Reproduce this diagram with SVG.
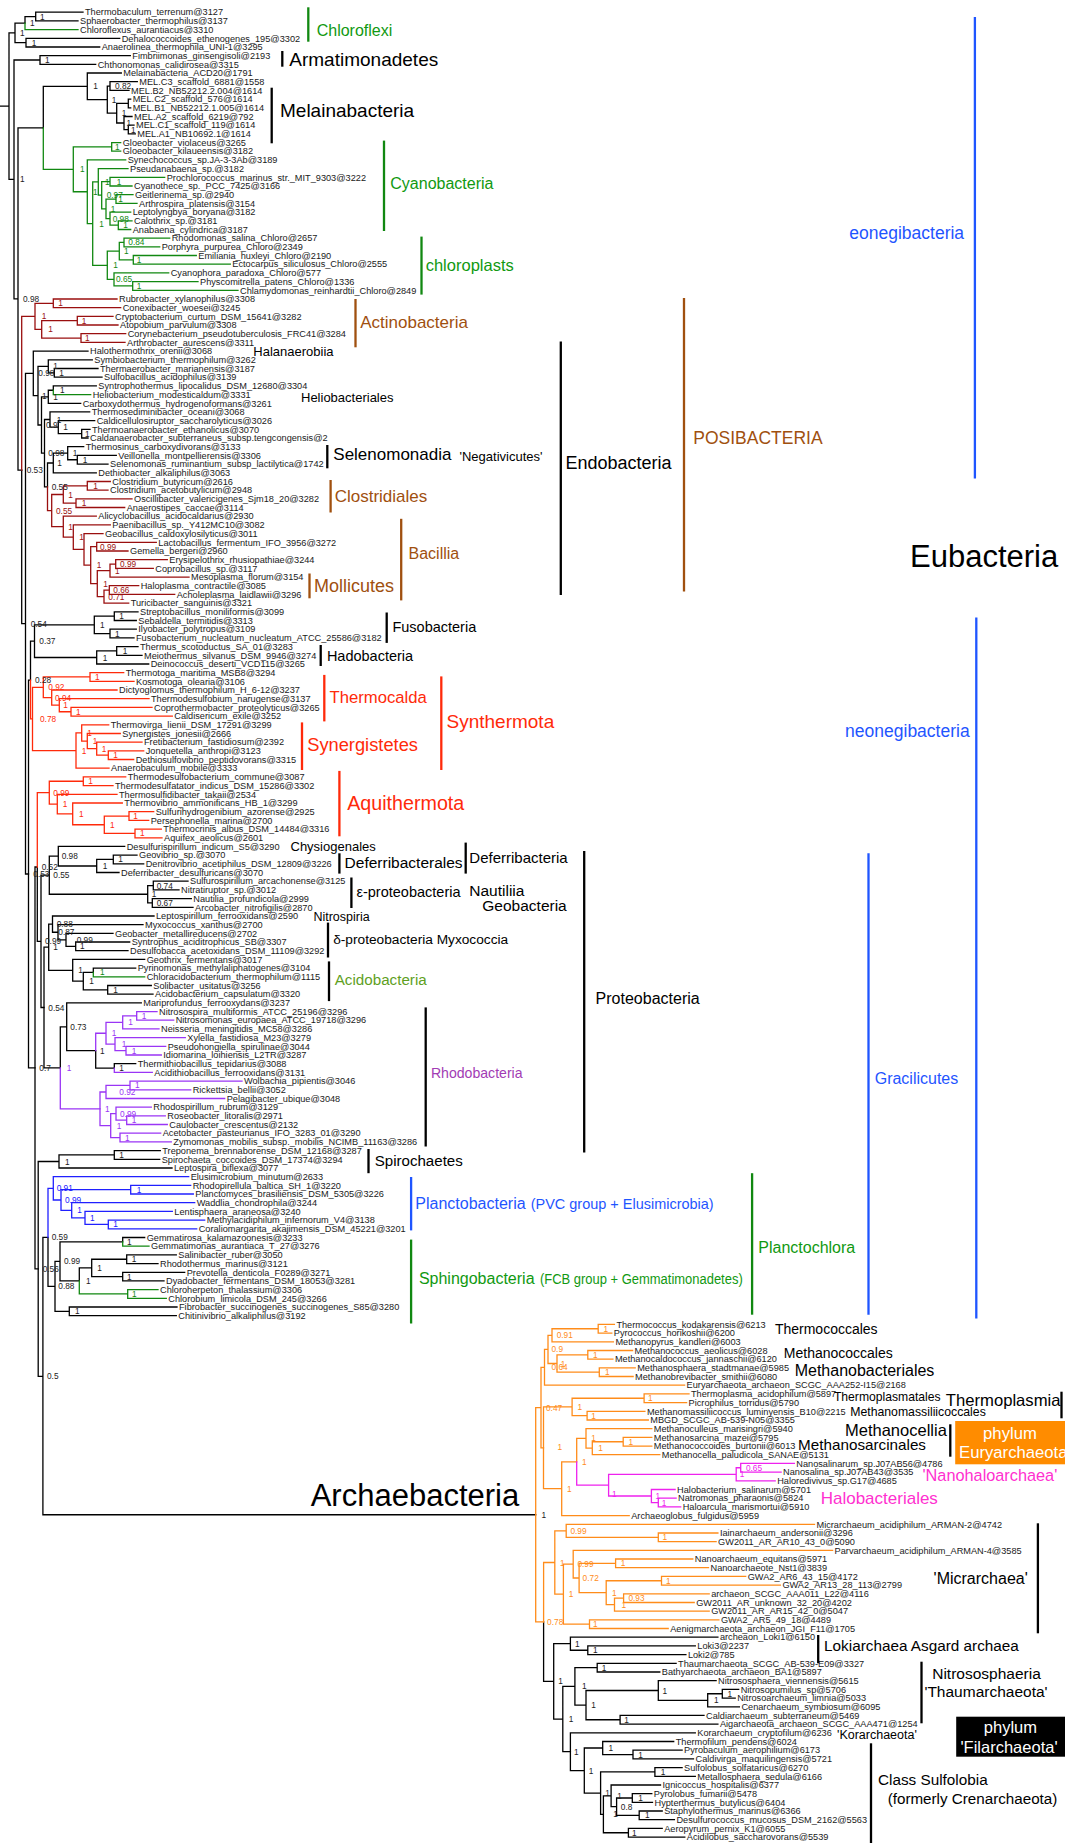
<svg xmlns="http://www.w3.org/2000/svg" width="1065" height="1843" viewBox="0 0 1065 1843">
<style>
.t{font-family:"Liberation Sans",Arial,Helvetica,sans-serif}
.l{font-size:9.2px;fill:#1a1a1a}
.s{font-size:8.3px}
path{fill:none;stroke-width:1.3;stroke-linecap:square}
.k path,path.k{stroke:#000}
.g path,path.g{stroke:#118811}
.dr path,path.dr{stroke:#9a0f0f}
.r path,path.r{stroke:#ff2a0a}
.p path,path.p{stroke:#9a35f5}
.b path,path.b{stroke:#2020ff}
.o path,path.o{stroke:#ff8c1a}
.m path,path.m{stroke:#ee22ee}
.bar{stroke-width:2.3;stroke-linecap:butt}
.fk{fill:#222}.fg{fill:#118811}.fdr{fill:#9a0f0f}.fr{fill:#ff2a0a}.fp{fill:#9a35f5}.fb{fill:#2020ff}.fo{fill:#ff8c1a}.fm{fill:#ee22ee}
.cbr{fill:#a0500f}.cg{fill:#119911}.cb{fill:#1f55ff}.cr{fill:#ff2a0a}.ck{fill:#000}
</style>
<rect width="1065" height="1843" fill="#fff"/>
<g id="connectors">
<g class="k">
<path d="M83 12.2H35.7V20.9H78M35.7 16.55H25V23.1M119.7 38.3H26V47H99.7M25 23.1H15V42.65H26M15 32.9H9V179.45H14M0 106.2H9M130.3 55.7H40V64.3H95.7M40 60H14V298.9H18M43.3 127.8H18V470.05H21.7"/>
<path d="M121.3 73H87.3V99.6H107.3M110 86.05H107.3V113.2H116.7M137.3 81.7H110V90.4H129M128.3 103.45H116.7V123H124M130.7 99.1H128.3V107.8H130.7M132 116.5H124V129.55H128.3M134 125.2H128.3V133.9H135.3M87.3 86.3H43.3V127.8"/>
<path d="M21.7 470.05V623.7H25.5M33.3 373.4H25.5V874H28.5M88 351.1H33.3V395.65H38M48.3 366.3H38V425H41.5M92.3 359.8H48.3V372.85H54.3M98 368.5H54.3V377.2H102M48.3 396.8H41.5V453.15H44.5M53.3 390.25H48.3V403.3H80.7M96.3 385.9H53.3V390.25M50 419.5H44.5V486.8H47.5M89.7 411.9H50V427.1H58.3M94.7 420.6H58.3V433.65H81.7M90 429.3H81.7V438H88M53.3 463H47.5V486.8M67.7 453.2H53.3V472.8H96.3M83.7 446.7H67.7V459.75H77.3M116.3 455.4H77.3V464.1H108"/>
<path d="M30.5 680.1H28.5V1067.95H35M34.5 641.2H30.5V680.1M94.3 624.85H34.5V657.5H96.7M138 611.8H114.3V620.5H136.3M136.3 629.2H110V637.9H134M114.3 616.15H94.3V633.55H110M138 646.6H116.7V655.3H142M116.7 650.95H96.7V664H148.7"/>
<path d="M37.3 867H35V1268.9H38.2M37.3 867V941.35H41M49.3 875.2H41V1007.5H44M58.3 856.2H49.3V894.25H147.7M124.7 846.4H58.3V865.98H96.7M113.3 859.45H96.7V872.5H119M137 855.1H113.3V863.8H143.7M153.3 885.55H147.7V902.95H152.3M188 881.2H153.3V889.9H179M191.3 898.6H152.3V907.3H193"/>
<path d="M48.7 947.2H44V1067.8H60.3M52.5 924.1H48.7V970.3H72.7M154 916H52.5V932.25H58M143 924.7H58V939.8H66M113 933.3H66V946.35H75.7M129.7 942H75.7V950.7H128M144.7 959.4H72.7V981.15H83.3M93.3 972.45H83.3V989.85H107.7M135.7 968.1H93.3V972.45M151.3 985.5H107.7V994.2H153"/>
<path d="M66.7 1026.8H60.3V1067.8M141.3 1002.9H66.7V1050.65H95.7M95.7 1050.65V1068.05H114.3M135.7 1063.7H114.3V1068.05"/>
<path d="M59 1161.5H38.2V1376.35H42.9M114.3 1154.95H59V1168H172M160.3 1150.6H114.3V1159.3H159.7M48 1237.4H42.9V1514.75H535.7M48 1237.4V1286.4H55M60 1261.4H55V1311.35H69.3M122.7 1241.85H60V1280.9H79.3M144.7 1237.5H122.7V1241.85M91.7 1267.9H79.3V1280.9M126.7 1259.25H91.7V1276.6H122.7M176.3 1254.9H126.7V1263.6H158M184.7 1272.3H122.7V1280.9H164M177 1307H69.3V1315.7H176.3"/>
<path d="M543.6 1621.95V1681.4H553.7M570.4 1643.7H553.7V1719.05H562.8M717.9 1637.2H570.4V1650.25H587.8M695.3 1645.9H587.8V1654.6H685.9M574.9 1686.4H562.8V1751.7H570.4M597.2 1667.65H574.9V1705.1H586M676.1 1663.3H597.2V1672H659.8M658.3 1690.5H586V1719.75H620.1M716.1 1680.7H658.3V1700.3H707.7M722.3 1693.75H707.7V1706.8H739.4M738.7 1689.4H722.3V1698.1H735.2M704 1715.4H620.1V1724.1H717.9"/>
<path d="M695.3 1732.8H570.4V1770.55H584.3M602.7 1748H584.3V1793.1H600.6M673.7 1741.5H602.7V1754.55H633M682.1 1750.2H633V1758.9H693.5M654.9 1771.95H600.6V1814.3H603.4M682.1 1767.6H654.9V1776.3H695.3M611.1 1795.85H603.4V1832.75H628.4M660.5 1785H611.1V1806.7H616.6M632.3 1798H616.6V1815.35H639.2M651.8 1793.7H632.3V1802.3H652.5M662.2 1811H639.2V1819.7H674.4M662.2 1828.4H628.4V1837.1H684.8"/>
</g>
<g class="g">
<path d="M25 23.1V29.6H78M43.3 127.8V169.3H73.3M111.7 146.9H73.3V191.75H87.3M120.7 142.6H111.7V151.2H120.7M125.7 159.9H87.3V223.6H92.7M98.3 181.9H92.7V265.3H107.3M128 168.6H98.3V195.2H101.7M110 181.65H101.7V208.8H106M164.7 177.3H110V186H132M116 199.05H106V218.6H110M133 194.7H116V203.4H137M130.7 212.1H110V225.15H118.3M132 220.8H118.3V229.5H130.7"/>
<path d="M119.3 251.15H107.3V279.4H114M124 242.45H119.3V259.85H133.3M169.7 238.1H124V246.8H159.7M196.3 255.5H133.3V264.2H230.3M168.7 272.9H114V285.95H132.7M198 281.6H132.7V290.3H238"/>
<path d="M53.3 390.25V394.6H90.7M93.3 972.45V976.8H144.7M122.7 1241.85V1246.2H149M79.3 1280.9V1293.95H127.7M158 1289.6H127.7V1298.3H166.3"/>
</g>
<g class="dr">
<path d="M35 316.4H21.7V470.05M53.3 303.35H35V329.4H41.7M117 299H53.3V307.7H120.7M77.3 320.7H41.7V338.05H81M113 316.4H77.3V325H118M125.7 333.7H81V342.4H125"/>
<path d="M47.5 486.8V510.6H51.7M63.3 494.5H51.7V526.65H63.3M87.3 485.85H63.3V503.15H76M110.3 481.5H87.3V490.2H108M132 498.8H76V507.5H124.7M96.3 516.2H63.3V537.1H73.3M110.3 524.9H73.3V549.35H84M103 533.6H84V565.1H90.7M96.7 546.65H90.7V583.6H97.3M156.3 542.3H96.7V551H128M110 570.6H97.3V596.6H104M115.7 564.05H110V577.1H189M167.3 559.7H115.7V568.4H153.3M109.3 590.05H104V603.1H128.7M138.7 585.7H109.3V594.4H174.7"/>
</g>
<g class="r">
<path d="M30.5 680.1V718.95H32.5M43.3 687.3H32.5V750.6H76M90 676.95H43.3V697.6H51.7M123.7 672.6H90V681.3H134M117 690H51.7V705.2H59.3M149 698.7H59.3V711.75H71M152 707.4H71V716.1H172.3M81.7 732.95H76V768.2H109M108.7 724.8H81.7V741.1H87.3M120.3 733.5H87.3V748.7H96.7M142 742.2H96.7V755.2H108.3M143.7 750.9H108.3V759.5H133.7"/>
<path d="M49.3 792.7H37.3V867M83.3 781.25H49.3V804.1H57.3M125.7 776.9H83.3V785.6H113M117 794.3H57.3V813.9H72.7M122.3 803H72.7V824.75H104.3M129 816.05H104.3V833.45H135M153.7 811.7H129V820.4H148.7M161.3 829.1H135V837.8H162"/>
</g>
<g class="p">
<path d="M60.3 1067.8V1108.8H100M106 1033.25H95.7V1050.65M114.3 1068.05V1072.4H152.3M122.7 1022.4H106V1044.1H115M136.7 1015.9H122.7V1028.9H159M157 1011.6H136.7V1020.2H173.7M185.3 1037.6H115V1050.65H126M165.7 1046.3H126V1055H161.3"/>
<path d="M106 1091.98H100V1125.6H110.7M130 1085.45H106V1098.5H224.7M242 1081.1H130V1089.8H190.7M116 1113.6H110.7V1137.55H120M151.3 1107.1H116V1120.15H126.7M165.3 1115.8H126.7V1124.5H167.3M160.7 1133.2H120V1141.9H171.3"/>
</g>
<g class="b">
<path d="M53.3 1188.35H48V1237.4M188.7 1176.7H53.3V1200H61M130.7 1189.7H61V1210.3H71.7M190.7 1185.4H130.7V1194H193.3M194.7 1202.7H71.7V1217.9H85M172.3 1211.4H85V1224.45H108.3M204.7 1220.1H108.3V1228.8H196.7"/>
</g>
<g class="o">
<path d="M541 1407.55H535.7V1621.95H543.6M544.5 1367.3H541V1447.8H543.5M548 1349.4H544.5V1385.2H684.6M552 1335.3H548V1363.5H557M598.2 1328.75H552V1341.8H613.4M614.4 1324.4H598.2V1333.1H611.8M587.8 1354.85H557V1372.15H599.3M632.6 1350.5H587.8V1359.2H612.9M635.2 1367.8H599.3V1376.5H633.1"/>
<path d="M572.1 1406.95H543.5V1488.7H561.7M644.1 1398.25H572.1V1415.65H587.1M689 1393.9H644.1V1402.6H686.6M644.9 1411.3H587.1V1420H648.3M576.7 1461.8H561.7V1515.6H629.2M586 1438.45H576.7V1461.8M651.8 1428.7H586V1448.2H592.3M623.2 1441.75H592.3V1454.7H659.8M651.8 1437.4H623.2V1446.1H651.8"/>
<path d="M554.8 1562.5H543.6V1621.95M566.2 1530.8H554.8V1594.2H563.4M814.5 1524.3H566.2V1537.3H658.3M717.9 1533H658.3V1541.6H716.1M573.2 1564.15H563.4V1624.2H589.5M832.6 1550.3H573.2V1578H579.1M615.6 1563.35H579.1V1592.7H606.2M692.8 1559H615.6V1567.7H708.5M661.5 1580.75H606.2V1604.7H614.5M745.7 1576.4H661.5V1585.1H780.4M623.6 1598.15H614.5V1611.2H709.2M709.2 1593.8H623.6V1602.5H694.2M718.9 1619.9H589.5V1628.5H668.2"/>
</g>
<g class="m">
<path d="M576.7 1461.8V1485.15H608.6M736.2 1474.3H608.6V1496H651.4M740.7 1467.75H736.2V1480.8H775.2M794.3 1463.4H740.7V1472.1H781.1M675.1 1489.5H651.4V1502.55H658.3M676.1 1498.2H658.3V1506.9H680.7"/>
</g>
</g>
<g id="leaves" class="t l">
<text x="85" y="15.4">Thermobaculum_terrenum@3127</text>
<text x="80" y="24.1">Sphaerobacter_thermophilus@3137</text>
<text x="80" y="32.8">Chloroflexus_aurantiacus@3310</text>
<text x="121.7" y="41.5">Dehalococcoides_ethenogenes_195@3302</text>
<text x="101.7" y="50.2">Anaerolinea_thermophila_UNI-1@3295</text>
<text x="132.3" y="58.9">Fimbriimonas_ginsengisoli@2193</text>
<text x="97.7" y="67.5">Chthonomonas_calidirosea@3315</text>
<text x="123.3" y="76.2">Melainabacteria_ACD20@1791</text>
<text x="139.3" y="84.9">MEL.C3_scaffold_6881@1558</text>
<text x="131" y="93.6">MEL.B2_NB52212.2.004@1614</text>
<text x="132.7" y="102.3">MEL.C2_scaffold_576@1614</text>
<text x="132.7" y="111">MEL.B1_NB52212.1.005@1614</text>
<text x="134" y="119.7">MEL.A2_scaffold_6219@792</text>
<text x="136" y="128.4">MEL.C1_scaffold_119@1614</text>
<text x="137.3" y="137.1">MEL.A1_NB10692.1@1614</text>
<text x="122.7" y="145.8">Gloeobacter_violaceus@3265</text>
<text x="122.7" y="154.4">Gloeobacter_kilaueensis@3182</text>
<text x="127.7" y="163.1">Synechococcus_sp.JA-3-3Ab@3189</text>
<text x="130" y="171.8">Pseudanabaena_sp.@3182</text>
<text x="166.7" y="180.5">Prochlorococcus_marinus_str._MIT_9303@3222</text>
<text x="134" y="189.2">Cyanothece_sp._PCC_7425@3166</text>
<text x="135" y="197.9">Geitlerinema_sp.@2940</text>
<text x="139" y="206.6">Arthrospira_platensis@3154</text>
<text x="132.7" y="215.3">Leptolyngbya_boryana@3182</text>
<text x="134" y="224">Calothrix_sp.@3181</text>
<text x="132.7" y="232.7">Anabaena_cylindrica@3187</text>
<text x="171.7" y="241.3">Rhodomonas_salina_Chloro@2657</text>
<text x="161.7" y="250">Porphyra_purpurea_Chloro@2349</text>
<text x="198.3" y="258.7">Emiliania_huxleyi_Chloro@2190</text>
<text x="232.3" y="267.4">Ectocarpus_siliculosus_Chloro@2555</text>
<text x="170.7" y="276.1">Cyanophora_paradoxa_Chloro@577</text>
<text x="200" y="284.8">Physcomitrella_patens_Chloro@1336</text>
<text x="240" y="293.5">Chlamydomonas_reinhardtii_Chloro@2849</text>
<text x="119" y="302.2">Rubrobacter_xylanophilus@3308</text>
<text x="122.7" y="310.9">Conexibacter_woesei@3245</text>
<text x="115" y="319.6">Cryptobacterium_curtum_DSM_15641@3282</text>
<text x="120" y="328.2">Atopobium_parvulum@3308</text>
<text x="127.7" y="336.9">Corynebacterium_pseudotuberculosis_FRC41@3284</text>
<text x="127" y="345.6">Arthrobacter_aurescens@3311</text>
<text x="90" y="354.3">Halothermothrix_orenii@3068</text>
<text x="94.3" y="363">Symbiobacterium_thermophilum@3262</text>
<text x="100" y="371.7">Thermaerobacter_marianensis@3187</text>
<text x="104" y="380.4">Sulfobacillus_acidophilus@3139</text>
<text x="98.3" y="389.1">Syntrophothermus_lipocalidus_DSM_12680@3304</text>
<text x="92.7" y="397.8">Heliobacterium_modesticaldum@3331</text>
<text x="82.7" y="406.5">Carboxydothermus_hydrogenoformans@3261</text>
<text x="91.7" y="415.1">Thermosediminibacter_oceani@3068</text>
<text x="96.7" y="423.8">Caldicellulosiruptor_saccharolyticus@3026</text>
<text x="92" y="432.5">Thermoanaerobacter_ethanolicus@3070</text>
<text x="90" y="441.2">Caldanaerobacter_subterraneus_subsp.tengcongensis@2</text>
<text x="85.7" y="449.9">Thermosinus_carboxydivorans@3133</text>
<text x="118.3" y="458.6">Veillonella_montpellierensis@3306</text>
<text x="110" y="467.3">Selenomonas_ruminantium_subsp_lactilytica@1742</text>
<text x="98.3" y="476">Dethiobacter_alkaliphilus@3063</text>
<text x="112.3" y="484.7">Clostridium_butyricum@2616</text>
<text x="110" y="493.4">Clostridium_acetobutylicum@2948</text>
<text x="134" y="502">Oscillibacter_valericigenes_Sjm18_20@3282</text>
<text x="126.7" y="510.7">Anaerostipes_caccae@3114</text>
<text x="98.3" y="519.4">Alicyclobacillus_acidocaldarius@2930</text>
<text x="112.3" y="528.1">Paenibacillus_sp._Y412MC10@3082</text>
<text x="105" y="536.8">Geobacillus_caldoxylosilyticus@3011</text>
<text x="158.3" y="545.5">Lactobacillus_fermentum_IFO_3956@3272</text>
<text x="130" y="554.2">Gemella_bergeri@2960</text>
<text x="169.3" y="562.9">Erysipelothrix_rhusiopathiae@3244</text>
<text x="155.3" y="571.6">Coprobacillus_sp.@3117</text>
<text x="191" y="580.3">Mesoplasma_florum@3154</text>
<text x="140.7" y="588.9">Haloplasma_contractile@3085</text>
<text x="176.7" y="597.6">Acholeplasma_laidlawii@3296</text>
<text x="130.7" y="606.3">Turicibacter_sanguinis@3321</text>
<text x="140" y="615">Streptobacillus_moniliformis@3099</text>
<text x="138.3" y="623.7">Sebaldella_termitidis@3313</text>
<text x="138.3" y="632.4">Ilyobacter_polytropus@3109</text>
<text x="136" y="641.1">Fusobacterium_nucleatum_nucleatum_ATCC_25586@3182</text>
<text x="140" y="649.8">Thermus_scotoductus_SA_01@3283</text>
<text x="144" y="658.5">Meiothermus_silvanus_DSM_9946@3274</text>
<text x="150.7" y="667.2">Deinococcus_deserti_VCD115@3265</text>
<text x="125.7" y="675.8">Thermotoga_maritima_MSB8@3294</text>
<text x="136" y="684.5">Kosmotoga_olearia@3106</text>
<text x="119" y="693.2">Dictyoglomus_thermophilum_H_6-12@3237</text>
<text x="151" y="701.9">Thermodesulfobium_narugense@3137</text>
<text x="154" y="710.6">Coprothermobacter_proteolyticus@3265</text>
<text x="174.3" y="719.3">Caldisericum_exile@3252</text>
<text x="110.7" y="728">Thermovirga_lienii_DSM_17291@3299</text>
<text x="122.3" y="736.7">Synergistes_jonesii@2666</text>
<text x="144" y="745.4">Fretibacterium_fastidiosum@2392</text>
<text x="145.7" y="754.1">Jonquetella_anthropi@3123</text>
<text x="135.7" y="762.7">Dethiosulfovibrio_peptidovorans@3315</text>
<text x="111" y="771.4">Anaerobaculum_mobile@3333</text>
<text x="127.7" y="780.1">Thermodesulfobacterium_commune@3087</text>
<text x="115" y="788.8">Thermodesulfatator_indicus_DSM_15286@3302</text>
<text x="119" y="797.5">Thermosulfidibacter_takaii@2534</text>
<text x="124.3" y="806.2">Thermovibrio_ammonificans_HB_1@3299</text>
<text x="155.7" y="814.9">Sulfurihydrogenibium_azorense@2925</text>
<text x="150.7" y="823.6">Persephonella_marina@2700</text>
<text x="163.3" y="832.3">Thermocrinis_albus_DSM_14484@3316</text>
<text x="164" y="841">Aquifex_aeolicus@2601</text>
<text x="126.7" y="849.6">Desulfurispirillum_indicum_S5@3290</text>
<text x="139" y="858.3">Geovibrio_sp.@3070</text>
<text x="145.7" y="867">Denitrovibrio_acetiphilus_DSM_12809@3226</text>
<text x="121" y="875.7">Deferribacter_desulfuricans@3070</text>
<text x="190" y="884.4">Sulfurospirillum_arcachonense@3125</text>
<text x="181" y="893.1">Nitratiruptor_sp.@3012</text>
<text x="193.3" y="901.8">Nautilia_profundicola@2999</text>
<text x="195" y="910.5">Arcobacter_nitrofigilis@2870</text>
<text x="156" y="919.2">Leptospirillum_ferrooxidans@2590</text>
<text x="145" y="927.9">Myxococcus_xanthus@2700</text>
<text x="115" y="936.5">Geobacter_metallireducens@2702</text>
<text x="131.7" y="945.2">Syntrophus_aciditrophicus_SB@3307</text>
<text x="130" y="953.9">Desulfobacca_acetoxidans_DSM_11109@3292</text>
<text x="146.7" y="962.6">Geothrix_fermentans@3017</text>
<text x="137.7" y="971.3">Pyrinomonas_methylaliphatogenes@3104</text>
<text x="146.7" y="980">Chloracidobacterium_thermophilum@1115</text>
<text x="153.3" y="988.7">Solibacter_usitatus@3256</text>
<text x="155" y="997.4">Acidobacterium_capsulatum@3320</text>
<text x="143.3" y="1006.1">Mariprofundus_ferrooxydans@3237</text>
<text x="159" y="1014.8">Nitrosospira_multiformis_ATCC_25196@3296</text>
<text x="175.7" y="1023.4">Nitrosomonas_europaea_ATCC_19718@3296</text>
<text x="161" y="1032.1">Neisseria_meningitidis_MC58@3286</text>
<text x="187.3" y="1040.8">Xylella_fastidiosa_M23@3279</text>
<text x="167.7" y="1049.5">Pseudohongiella_spirulinae@3044</text>
<text x="163.3" y="1058.2">Idiomarina_loihiensis_L2TR@3287</text>
<text x="137.7" y="1066.9">Thermithiobacillus_tepidarius@3088</text>
<text x="154.3" y="1075.6">Acidithiobacillus_ferrooxidans@3131</text>
<text x="244" y="1084.3">Wolbachia_pipientis@3046</text>
<text x="192.7" y="1093">Rickettsia_bellii@3052</text>
<text x="226.7" y="1101.7">Pelagibacter_ubique@3048</text>
<text x="153.3" y="1110.3">Rhodospirillum_rubrum@3129</text>
<text x="167.3" y="1119">Roseobacter_litoralis@2971</text>
<text x="169.3" y="1127.7">Caulobacter_crescentus@2132</text>
<text x="162.7" y="1136.4">Acetobacter_pasteurianus_IFO_3283_01@3290</text>
<text x="173.3" y="1145.1">Zymomonas_mobilis_subsp._mobilis_NCIMB_11163@3286</text>
<text x="162.3" y="1153.8">Treponema_brennaborense_DSM_12168@3287</text>
<text x="161.7" y="1162.5">Spirochaeta_coccoides_DSM_17374@3294</text>
<text x="174" y="1171.2">Leptospira_biflexa@3077</text>
<text x="190.7" y="1179.9">Elusimicrobium_minutum@2633</text>
<text x="192.7" y="1188.6">Rhodopirellula_baltica_SH_1@3220</text>
<text x="195.3" y="1197.2">Planctomyces_brasiliensis_DSM_5305@3226</text>
<text x="196.7" y="1205.9">Waddlia_chondrophila@3244</text>
<text x="174.3" y="1214.6">Lentisphaera_araneosa@3240</text>
<text x="206.7" y="1223.3">Methylacidiphilum_infernorum_V4@3138</text>
<text x="198.7" y="1232">Coraliomargarita_akajimensis_DSM_45221@3201</text>
<text x="146.7" y="1240.7">Gemmatirosa_kalamazoonesis@3233</text>
<text x="151" y="1249.4">Gemmatimonas_aurantiaca_T_27@3276</text>
<text x="178.3" y="1258.1">Salinibacter_ruber@3050</text>
<text x="160" y="1266.8">Rhodothermus_marinus@3121</text>
<text x="186.7" y="1275.5">Prevotella_denticola_F0289@3271</text>
<text x="166" y="1284.1">Dyadobacter_fermentans_DSM_18053@3281</text>
<text x="160" y="1292.8">Chloroherpeton_thalassium@3306</text>
<text x="168.3" y="1301.5">Chlorobium_limicola_DSM_245@3266</text>
<text x="179" y="1310.2">Fibrobacter_succinogenes_succinogenes_S85@3280</text>
<text x="178.3" y="1318.9">Chitinivibrio_alkaliphilus@3192</text>
<text x="616.4" y="1327.6">Thermococcus_kodakarensis@6213</text>
<text x="613.8" y="1336.3">Pyrococcus_horikoshii@6200</text>
<text x="615.4" y="1345">Methanopyrus_kandleri@6003</text>
<text x="634.6" y="1353.7">Methanococcus_aeolicus@6028</text>
<text x="614.9" y="1362.4">Methanocaldococcus_jannaschii@6120</text>
<text x="637.2" y="1371">Methanosphaera_stadtmanae@5985</text>
<text x="635.1" y="1379.7">Methanobrevibacter_smithii@6080</text>
<text x="686.6" y="1388.4">Euryarchaeota_archaeon_SCGC_AAA252-I15@2168</text>
<text x="691" y="1397.1">Thermoplasma_acidophilum@5897</text>
<text x="688.6" y="1405.8">Picrophilus_torridus@5790</text>
<text x="646.9" y="1414.5">Methanomassiliicoccus_luminyensis_B10@2215</text>
<text x="650.3" y="1423.2">MBGD_SCGC_AB-539-N05@3355</text>
<text x="653.8" y="1431.9">Methanoculleus_marisingri@5940</text>
<text x="653.8" y="1440.6">Methanosarcina_mazei@5795</text>
<text x="653.8" y="1449.3">Methanococcoides_burtonii@6013</text>
<text x="661.8" y="1457.9">Methanocella_paludicola_SANAE@5131</text>
<text x="796.3" y="1466.6">Nanosalinarum_sp.J07AB56@4786</text>
<text x="783.1" y="1475.3">Nanosalina_sp.J07AB43@3535</text>
<text x="777.2" y="1484">Haloredivivus_sp.G17@4685</text>
<text x="677.1" y="1492.7">Halobacterium_salinarum@5701</text>
<text x="678.1" y="1501.4">Natromonas_pharaonis@5824</text>
<text x="682.7" y="1510.1">Haloarcula_marismortui@5910</text>
<text x="631.2" y="1518.8">Archaeoglobus_fulgidus@5959</text>
<text x="816.5" y="1527.5">Micrarchaeum_acidiphilum_ARMAN-2@4742</text>
<text x="719.9" y="1536.2">Iainarchaeum_andersonii@3296</text>
<text x="718.1" y="1544.8">GW2011_AR_AR10_43_0@5090</text>
<text x="834.6" y="1553.5">Parvarchaeum_acidiphilum_ARMAN-4@3585</text>
<text x="694.8" y="1562.2">Nanoarchaeum_equitans@5971</text>
<text x="710.5" y="1570.9">Nanoarchaeote_Nst1@3839</text>
<text x="747.7" y="1579.6">GWA2_AR6_43_15@4172</text>
<text x="782.4" y="1588.3">GWA2_AR13_28_113@2799</text>
<text x="711.2" y="1597">archaeon_SCGC_AAA011_L22@4116</text>
<text x="696.2" y="1605.7">GW2011_AR_unknown_32_20@4202</text>
<text x="711.2" y="1614.4">GW2011_AR_AR15_42_0@5047</text>
<text x="720.9" y="1623.1">GWA2_AR5_49_18@4489</text>
<text x="670.2" y="1631.7">Aenigmarchaeota_archaeon_JGI_F11@1705</text>
<text x="719.9" y="1640.4">archeaon_Loki1@6150</text>
<text x="697.3" y="1649.1">Loki3@2237</text>
<text x="687.9" y="1657.8">Loki2@785</text>
<text x="678.1" y="1666.5">Thaumarchaeota_SCGC_AB-539-E09@3327</text>
<text x="661.8" y="1675.2">Bathyarchaeota_archaeon_BA1@5897</text>
<text x="718.1" y="1683.9">Nitrososphaera_viennensis@5615</text>
<text x="740.7" y="1692.6">Nitrosopumilus_sp@5706</text>
<text x="737.2" y="1701.3">Nitrosoarchaeum_limnia@5033</text>
<text x="741.4" y="1710">Cenarchaeum_symbiosum@6095</text>
<text x="706" y="1718.6">Caldiarchaeum_subterraneum@5469</text>
<text x="719.9" y="1727.3">Aigarchaeota_archaeon_SCGC_AAA471@1254</text>
<text x="697.3" y="1736">Korarchaeum_cryptofilum@6236</text>
<text x="675.7" y="1744.7">Thermofilum_pendens@6024</text>
<text x="684.1" y="1753.4">Pyrobaculum_aerophilium@6173</text>
<text x="695.5" y="1762.1">Caldivirga_maquilingensis@5721</text>
<text x="684.1" y="1770.8">Sulfolobus_solfataricus@6270</text>
<text x="697.3" y="1779.5">Metallosphaera_sedula@6166</text>
<text x="662.5" y="1788.2">Ignicoccus_hospitalis@6377</text>
<text x="653.8" y="1796.9">Pyrolobus_fumarii@5478</text>
<text x="654.5" y="1805.5">Hypterthermus_butylicus@6404</text>
<text x="664.2" y="1814.2">Staphylothermus_marinus@6366</text>
<text x="676.4" y="1822.9">Desulfurococcus_mucosus_DSM_2162@5563</text>
<text x="664.2" y="1831.6">Aeropyrum_pernix_K1@6055</text>
<text x="686.8" y="1840.3">Acidilobus_saccharovorans@5539</text>
</g>
<g id="support" class="t s">
<g class="fk">
<text x="40" y="19.5">1</text><text x="30" y="26.1">1</text><text x="31.7" y="45.6">1</text><text x="20" y="35.9">1</text><text x="45" y="63">1</text>
<text x="93.3" y="89.3">1</text><text x="115" y="89">0.82</text><text x="111.7" y="102.6">1</text><text x="121.7" y="116.2">1</text><text x="126.5" y="126">1</text><text x="131" y="132.5">1</text>
<text x="23" y="301.9">0.98</text><text x="20" y="182.4">1</text><text x="26.7" y="473">0.53</text>
<text x="38.3" y="376.4">0.98</text><text x="53.3" y="369.3">1</text><text x="59.3" y="375.8">1</text><text x="42" y="398.6">1</text><text x="53.3" y="399.8">1</text><text x="60" y="393.2">1</text><text x="46" y="428">0.9</text>
<text x="56.7" y="422.5">1</text><text x="63.3" y="430.1">1</text><text x="85" y="436.6">1</text><text x="48.3" y="456.1">0.98</text><text x="72.7" y="456.2">1</text><text x="82.7" y="462.7">1</text><text x="57.3" y="466">1</text><text x="51.7" y="489.8">0.55</text>
<text x="30.7" y="626.7">0.54</text><text x="119.3" y="619.1">1</text><text x="115" y="636.5">1</text><text x="100" y="627.8">1</text><text x="39.3" y="644.2">0.37</text><text x="122.7" y="653.9">1</text><text x="102.7" y="660.5">1</text><text x="35" y="683.1">0.28</text>
<text x="61.7" y="859.2">0.98</text><text x="118.3" y="862.4">1</text><text x="102.7" y="869">1</text><text x="41.7" y="870">0.52</text><text x="33.3" y="877">0.53</text><text x="53.3" y="878.2">0.55</text>
<text x="156.7" y="888.5">0.74</text><text x="151.7" y="897.2">1</text><text x="156.7" y="905.9">0.67</text>
<text x="56.7" y="927.1">0.88</text><text x="58.3" y="935.2">0.87</text><text x="76.7" y="942.8">0.99</text><text x="45" y="944.3">0.99</text><text x="53.3" y="950.2">1</text><text x="80" y="949.3">1</text>
<text x="78.3" y="973.3">1</text><text x="89.3" y="984.1">1</text><text x="113.3" y="992.8">1</text><text x="48.3" y="1010.5">0.54</text><text x="70.3" y="1029.8">0.73</text><text x="100" y="1053.6">1</text><text x="39.3" y="1071">0.7</text><text x="119.3" y="1071">1</text>
<text x="119.3" y="1157.9">1</text><text x="65" y="1164.5">1</text><text x="51.7" y="1240.4">0.59</text><text x="127" y="1244.8">1</text><text x="131.7" y="1262.2">1</text><text x="64" y="1264.4">0.99</text><text x="97.3" y="1270.9">1</text><text x="42.7" y="1271.9">0.56</text>
<text x="127" y="1279.6">1</text><text x="86" y="1283.9">1</text><text x="58.3" y="1289.4">0.88</text><text x="75" y="1314.3">1</text><text x="47" y="1379.3">0.5</text>
<text x="541.5" y="1517.7">1</text>
<text x="574.9" y="1646.7">1</text><text x="593" y="1653.2">1</text><text x="601.7" y="1670.6">1</text><text x="558.2" y="1684.4">1</text><text x="581.9" y="1689.4">1</text><text x="662.5" y="1693.5">1</text><text x="727.5" y="1696.7">1</text><text x="714" y="1703.3">1</text><text x="591.3" y="1708.1">1</text>
<text x="568.7" y="1722">1</text><text x="624.3" y="1722.7">1</text><text x="608.6" y="1751">1</text><text x="573.9" y="1754.7">1</text><text x="638.2" y="1757.5">1</text><text x="588.8" y="1773.5">1</text><text x="660.8" y="1774.9">1</text><text x="605.2" y="1796.1">1</text>
<text x="617.3" y="1798.8">1</text><text x="638.2" y="1801">1</text><text x="620.8" y="1809.7">0.8</text><text x="613.2" y="1817.3">1</text><text x="645.1" y="1818.3">1</text><text x="632" y="1835.7">1</text>
</g>
<g class="fg">
<text x="115" y="149.9">1</text><text x="80" y="172.3">1</text><text x="93" y="194.7">1</text><text x="99.3" y="226.6">1</text><text x="105" y="184.9">1</text><text x="116.7" y="184.6">1</text><text x="106.7" y="198.2">0.97</text><text x="118.3" y="202">1</text><text x="110.7" y="211.8">1</text><text x="112.7" y="221.6">0.98</text><text x="123.3" y="228.1">1</text>
<text x="128.3" y="245.4">0.84</text><text x="124" y="254.1">1</text><text x="136.7" y="262.8">1</text><text x="113.3" y="268.3">1</text><text x="116" y="282.4">0.65</text><text x="136.7" y="288.9">1</text><text x="100" y="975.4">1</text><text x="132" y="1296.9">1</text>
</g>
<g class="fdr">
<text x="58.3" y="306.3">1</text><text x="81.7" y="323.7">1</text><text x="85" y="341">1</text><text x="48.3" y="332.4">1</text><text x="41.7" y="319.4">1</text>
<text x="93.3" y="488.8">1</text><text x="68.3" y="497.5">1</text><text x="81.7" y="506.1">1</text><text x="56" y="513.6">0.55</text><text x="68.3" y="529.6">1</text><text x="79.3" y="540.1">1</text><text x="100" y="549.6">0.99</text><text x="96.7" y="568.1">1</text>
<text x="120" y="567">0.99</text><text x="115" y="573.6">1</text><text x="103.3" y="586.6">1</text><text x="113.3" y="593">0.66</text><text x="108.3" y="599.6">0.71</text>
</g>
<g class="fr">
<text x="95" y="679.9">1</text><text x="48.3" y="690.3">0.92</text><text x="55" y="700.6">0.94</text><text x="63.3" y="708.2">1</text><text x="76" y="714.7">1</text><text x="40" y="721.9">0.78</text>
<text x="87.3" y="735.9">1</text><text x="92.7" y="744.1">1</text><text x="101.7" y="751.7">1</text><text x="81.7" y="753.6">1</text><text x="113.3" y="758.2">1</text>
<text x="88.3" y="784.2">1</text><text x="53.3" y="795.7">0.99</text><text x="62.7" y="807.1">1</text><text x="79" y="816.9">1</text><text x="133.3" y="819">1</text><text x="110" y="827.7">1</text><text x="140" y="836.4">1</text>
</g>
<g class="fp">
<text x="141.7" y="1018.9">1</text><text x="128.3" y="1025.4">1</text><text x="111.7" y="1036.2">1</text><text x="121.7" y="1047.1">1</text><text x="131.7" y="1053.6">1</text><text x="66.7" y="1070.8">1</text>
<text x="135" y="1088.4">1</text><text x="119.3" y="1095">0.92</text><text x="105" y="1111.8">1</text><text x="120" y="1116.6">0.99</text><text x="131.7" y="1123.1">1</text><text x="116.7" y="1128.6">1</text><text x="125" y="1140.5">1</text>
</g>
<g class="fb">
<text x="56.7" y="1191.3">0.91</text><text x="136.7" y="1192.7">1</text><text x="65" y="1203">0.99</text><text x="77.3" y="1213.3">1</text><text x="90" y="1220.9">1</text><text x="113.3" y="1227.4">1</text>
</g>
<g class="fo">
<text x="603.4" y="1331.7">1</text><text x="556.7" y="1338.3">0.91</text><text x="551.5" y="1352.4">0.9</text><text x="593" y="1357.8">1</text><text x="560.8" y="1366.5">1</text><text x="551.5" y="1370.3">0.64</text><text x="605" y="1375.1">1</text>
<text x="648" y="1401.2">1</text><text x="577.4" y="1409.9">1</text><text x="546" y="1410.5">0.47</text><text x="591.3" y="1418.6">1</text><text x="591.3" y="1441.4">1</text><text x="628.4" y="1444.7">1</text><text x="557.5" y="1449.7">1</text><text x="598.2" y="1451.2">1</text><text x="581.9" y="1464.8">1</text><text x="566.9" y="1491.7">1</text>
<text x="570.4" y="1533.8">0.99</text><text x="662.5" y="1540.3">1</text><text x="560" y="1565.5">1</text><text x="577.4" y="1567.1">0.99</text><text x="620.8" y="1566.3">1</text><text x="582.6" y="1581">0.72</text><text x="666" y="1583.7">1</text><text x="612.1" y="1595.7">1</text><text x="568.7" y="1597.2">1</text>
<text x="628.4" y="1601.1">0.93</text><text x="621.5" y="1607.7">1</text><text x="547.1" y="1624.9">0.78</text><text x="593" y="1627.2">1</text>
</g>
<g class="fm">
<text x="745.9" y="1470.7">0.65</text><text x="739.7" y="1477.3">1</text><text x="612.1" y="1497">1</text><text x="655.6" y="1499">1</text><text x="661.8" y="1505.5">1</text>
</g>
</g>
<g id="clade-labels" class="t">
<g id="c-chloroflexi"><path class="g bar" d="M308.3 7.3V41.7"/><text x="316.7" y="35.6" font-size="16" class="cg">Chloroflexi</text></g>
<g id="c-armatimonadetes"><path class="k bar" d="M282.3 51V66.7"/><text x="289.3" y="66" font-size="19" class="ck">Armatimonadetes</text></g>
<g id="c-melainabacteria"><path class="k bar" d="M271.7 87.7V143.3"/><text x="280" y="116.7" font-size="19" class="ck">Melainabacteria</text></g>
<g id="c-cyanobacteria"><path class="g bar" d="M384 140.6V231"/><text x="390.3" y="188.6" font-size="16" class="cg">Cyanobacteria</text></g>
<g id="c-chloroplasts"><path class="g bar" d="M421.5 236.6V294.6"/><text x="425.7" y="271.4" font-size="16.5" class="cg">chloroplasts</text></g>
<g id="c-actinobacteria"><path class="bar" stroke="#a0500f" d="M355.5 299V347.3"/><text x="360.2" y="328.3" font-size="17" class="cbr">Actinobacteria</text></g>
<g id="c-halanaerobiia"><text x="253.3" y="355.6" font-size="13" class="ck">Halanaerobiia</text></g>
<g id="c-heliobacteriales"><text x="301" y="401.9" font-size="13" class="ck">Heliobacteriales</text></g>
<g id="c-selenomonadia"><path class="k bar" d="M327.3 445V468.3"/><text x="333.3" y="460.3" font-size="17" class="ck">Selenomonadia</text><text x="459.5" y="460.6" font-size="13" class="ck">'Negativicutes'</text></g>
<g id="c-clostridiales"><path class="bar" stroke="#a0500f" d="M330.6 480V512.5"/><text x="334.7" y="501.5" font-size="17" class="cbr">Clostridiales</text></g>
<g id="c-bacillia"><path class="bar" stroke="#a0500f" d="M401.2 518.8V600.4"/><text x="408.5" y="559.2" font-size="16" class="cbr">Bacillia</text></g>
<g id="c-mollicutes"><path class="bar" stroke="#a0500f" d="M309.5 573.5V598.3"/><text x="314" y="592.3" font-size="18" class="cbr">Mollicutes</text></g>
<g id="c-endobacteria"><path class="k bar" d="M560.8 341.5V595"/><text x="565.5" y="469.3" font-size="18" class="ck">Endobacteria</text></g>
<g id="c-posibacteria"><path class="bar" stroke="#a0500f" d="M684 298V591.5"/><text x="693.3" y="443.6" font-size="17.5" class="cbr">POSIBACTERIA</text></g>
<g id="c-eonegibacteria"><path class="bar" stroke="#1f55ff" d="M974.9 17V478.6"/><text x="849.3" y="239.1" font-size="17.5" class="cb">eonegibacteria</text></g>
<g id="c-eubacteria"><text x="910" y="566.7" font-size="31" class="ck">Eubacteria</text></g>
<g id="c-fusobacteria"><path class="k bar" d="M386.7 612.5V642.9"/><text x="392.4" y="632.1" font-size="14.5" class="ck">Fusobacteria</text></g>
<g id="c-hadobacteria"><path class="k bar" d="M320.7 645V666"/><text x="326.9" y="661.4" font-size="14.5" class="ck">Hadobacteria</text></g>
<g id="c-neonegibacteria"><path class="bar" stroke="#1f55ff" d="M976.3 617.4V1318.6"/><text x="845.1" y="737.2" font-size="17.5" class="cb">neonegibacteria</text></g>
<g id="c-thermocalda"><path class="r bar" d="M324.3 674.9V721.4"/><text x="329.5" y="703" font-size="16.7" class="cr">Thermocalda</text></g>
<g id="c-synergistetes"><path class="r bar" d="M302 722.4V770"/><text x="307.2" y="750.6" font-size="18.3" class="cr">Synergistetes</text></g>
<g id="c-synthermota"><path class="r bar" d="M441.3 676.4V770"/><text x="446.5" y="728.1" font-size="19" class="cr">Synthermota</text></g>
<g id="c-aquithermota"><path class="r bar" d="M339.4 770.9V836.3"/><text x="347.2" y="810.3" font-size="19.7" class="cr">Aquithermota</text></g>
<g id="c-chysiogenales"><text x="290.5" y="850.6" font-size="13" class="ck">Chysiogenales</text></g>
<g id="c-deferribacterales"><path class="k bar" d="M339.4 853.3V873.6"/><text x="344.6" y="868.4" font-size="15.5" class="ck">Deferribacterales</text></g>
<g id="c-deferribacteria"><path class="k bar" d="M465.7 842.6V873.6"/><text x="469.3" y="862.5" font-size="15" class="ck">Deferribacteria</text></g>
<g id="c-epsilon"><path class="k bar" d="M351.4 877.5V908"/><text x="356.5" y="897.1" font-size="14.5" class="ck">ε-proteobacteria</text></g>
<g id="c-nautiliia"><text x="469.3" y="896" font-size="15.5" class="ck">Nautiliia</text><text x="482.3" y="911" font-size="15.5" class="ck">Geobacteria</text></g>
<g id="c-nitrospiria"><text x="313.4" y="921.4" font-size="12.5" class="ck">Nitrospiria</text></g>
<g id="c-delta"><path class="k bar" d="M328 922.6V957.5"/><text x="333.2" y="943.8" font-size="13.7" class="ck">δ-proteobacteria Myxococcia</text></g>
<g id="c-acidobacteria"><path class="k bar" d="M329 961.4V1001.1"/><text x="334.7" y="984.6" font-size="15.2" fill="#5f9f1f">Acidobacteria</text></g>
<g id="c-rhodobacteria"><path class="k bar" d="M425.7 1007.4V1146.5"/><text x="430.9" y="1077.8" font-size="14.1" fill="#a23cb4">Rhodobacteria</text></g>
<g id="c-proteobacteria"><path class="k bar" d="M584.2 850.9V1152.4"/><text x="595.6" y="1004.3" font-size="16" class="ck">Proteobacteria</text></g>
<g id="c-spirochaetes"><path class="k bar" d="M368.5 1149V1173.2"/><text x="374.7" y="1166.4" font-size="15.1" class="ck">Spirochaetes</text></g>
<g id="c-planctobacteria"><path class="bar" stroke="#1f55ff" d="M411.1 1177V1230.4"/><text x="415.3" y="1208.9" font-size="16" class="cb">Planctobacteria</text><text x="530.7" y="1208.9" font-size="14.5" class="cb" textLength="183" lengthAdjust="spacingAndGlyphs">(PVC group + Elusimicrobia)</text></g>
<g id="c-sphingobacteria"><path class="g bar" d="M411.1 1239.6V1323.5"/><text x="418.9" y="1283.5" font-size="16" class="cg">Sphingobacteria</text><text x="540" y="1283.5" font-size="14" class="cg" textLength="202.7" lengthAdjust="spacingAndGlyphs">(FCB group + Gemmatimonadetes)</text></g>
<g id="c-planctochlora"><path class="g bar" d="M752.1 1173.2V1314.7"/><text x="758.3" y="1253" font-size="16" class="cg">Planctochlora</text></g>
<g id="c-gracilicutes"><path class="bar" stroke="#1f55ff" d="M868.5 853.3V1314.7"/><text x="874.7" y="1084.3" font-size="16" class="cb">Gracilicutes</text></g>
<g id="c-archaebacteria"><text x="310.7" y="1506.3" font-size="31" class="ck">Archaebacteria</text></g>
<g id="c-thermococcales"><text x="774.9" y="1334.2" font-size="14" class="ck">Thermococcales</text></g>
<g id="c-methanococcales"><text x="783.8" y="1358.4" font-size="14" class="ck">Methanococcales</text></g>
<g id="c-methanobacteriales"><text x="794.7" y="1376.1" font-size="16" class="ck">Methanobacteriales</text></g>
<g id="c-thermoplasmatales"><text x="833.9" y="1401.3" font-size="13" class="ck" textLength="106.7" lengthAdjust="spacingAndGlyphs">Thermoplasmatales</text></g>
<g id="c-thermoplasmia"><path class="k bar" d="M1061.5 1391.7V1418.3"/><text x="945.8" y="1405.6" font-size="16.5" class="ck" textLength="114.7" lengthAdjust="spacingAndGlyphs">Thermoplasmia</text></g>
<g id="c-methanomassiliicoccales"><text x="850.2" y="1416.3" font-size="13" class="ck" textLength="135.6" lengthAdjust="spacingAndGlyphs">Methanomassiliicoccales</text></g>
<g id="c-methanocellia"><path class="k bar" d="M950.3 1424.3V1456.7"/><text x="845" y="1435.8" font-size="16.5" class="ck">Methanocellia</text><text x="798.1" y="1450.3" font-size="15" class="ck" textLength="127.9" lengthAdjust="spacingAndGlyphs">Methanosarcinales</text></g>
<g id="c-euryarchaeota"><rect x="955.2" y="1421" width="110" height="43.3" fill="#ff8c00"/><text x="1010" y="1439.1" font-size="16.7" fill="#fff" text-anchor="middle">phylum</text><text x="959" y="1457.5" font-size="16.7" fill="#fff">Euryarchaeota</text></g>
<g id="c-nanohaloarchaea"><text x="922.5" y="1481.4" font-size="16.3" fill="#ff30d0">'Nanohaloarchaea'</text></g>
<g id="c-halobacteriales"><text x="820.7" y="1503.7" font-size="17" fill="#ff30d0">Halobacteriales</text></g>
<g id="c-micrarchaea"><path class="k bar" d="M1037.9 1523.3V1633.3"/><text x="933.6" y="1583.9" font-size="16" class="ck">'Micrarchaea'</text></g>
<g id="c-lokiarchaea"><path class="k bar" d="M818.2 1635V1663.3"/><text x="824.1" y="1651.4" font-size="15.3" class="ck">Lokiarchaea Asgard archaea</text></g>
<g id="c-nitrososphaeria"><path class="k bar" d="M921.5 1661.7V1723.3"/><text x="986.5" y="1679.4" font-size="15.5" class="ck" text-anchor="middle">Nitrososphaeria</text><text x="986" y="1697.1" font-size="15.5" class="ck" text-anchor="middle">'Thaumarchaeota'</text></g>
<g id="c-korarchaeota"><text x="837" y="1738.7" font-size="12.5" class="ck">'Korarchaeota'</text></g>
<g id="c-filarchaeota"><rect x="956.2" y="1716.7" width="109" height="40" fill="#000"/><text x="1010.4" y="1733.1" font-size="16.5" fill="#fff" text-anchor="middle">phylum</text><text x="1009" y="1752.5" font-size="16.5" fill="#fff" text-anchor="middle">'Filarchaeota'</text></g>
<g id="c-sulfolobia"><path class="k bar" d="M871 1743.3V1843"/><text x="878" y="1784.7" font-size="15.3" class="ck">Class Sulfolobia</text><text x="887.7" y="1803.6" font-size="15.2" class="ck">(formerly Crenarchaeota)</text></g>
</g>
</svg>
